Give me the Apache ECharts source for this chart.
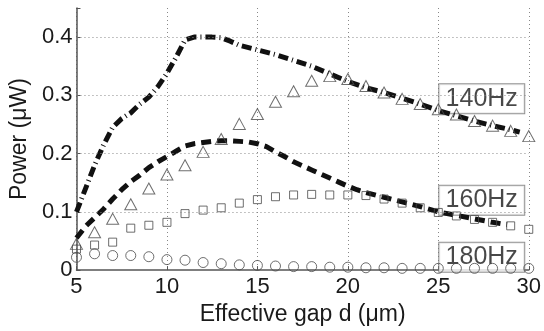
<!DOCTYPE html>
<html>
<head>
<meta charset="utf-8">
<script src="https://cdn.jsdelivr.net/npm/echarts@6/dist/echarts.min.js"></script>
<style>
html, body { margin: 0; padding: 0; background: #fff; }
#myChart { width: 544px; height: 331px; }
</style>
</head>
<body>
<div id="myChart"></div>
<script>
// measured points (integer gap values)
var gapList = [5, 6, 7, 8, 9, 10, 11, 12, 13, 14, 15, 16, 17, 18, 19, 20, 21, 22, 23, 24, 25, 26, 27, 28, 29, 30];
var exp140 = [0.045, 0.065, 0.088, 0.113, 0.140, 0.164, 0.180, 0.203, 0.225, 0.251, 0.268, 0.289, 0.307, 0.325, 0.333, 0.328, 0.316, 0.305, 0.294, 0.285, 0.276, 0.267, 0.256, 0.248, 0.239, 0.230];
var exp160 = [0.036, 0.043, 0.048, 0.072, 0.077, 0.082, 0.097, 0.103, 0.107, 0.115, 0.121, 0.126, 0.129, 0.130, 0.129, 0.129, 0.128, 0.122, 0.115, 0.107, 0.099, 0.093, 0.087, 0.082, 0.076, 0.070];
var exp180 = [0.022, 0.028, 0.025, 0.025, 0.023, 0.018, 0.017, 0.013, 0.011, 0.009, 0.008, 0.007, 0.006, 0.006, 0.005, 0.005, 0.004, 0.004, 0.003, 0.003, 0.003, 0.003, 0.003, 0.003, 0.003, 0.003];

// simulated curves
var simX140 = [5, 5.5, 6, 6.5, 7, 7.5, 8, 8.5, 9, 9.5, 10, 10.5, 11, 11.5, 12, 12.5, 13, 13.5, 14, 15, 16, 17, 18, 19, 20, 21, 22, 23, 24, 25, 26, 27, 28, 29, 29.5];
var simY140 = [0.100, 0.140, 0.180, 0.215, 0.245, 0.260, 0.270, 0.285, 0.297, 0.315, 0.338, 0.365, 0.395, 0.400, 0.400, 0.400, 0.399, 0.393, 0.386, 0.378, 0.370, 0.360, 0.350, 0.337, 0.324, 0.313, 0.305, 0.295, 0.285, 0.274, 0.265, 0.256, 0.248, 0.241, 0.237];
var simX160 = [5, 5.5, 6, 6.5, 7, 7.5, 8, 8.5, 9, 9.5, 10, 10.5, 11, 11.5, 12, 12.5, 13, 13.5, 14, 14.5, 15, 15.5, 16, 16.5, 17, 17.5, 18, 18.5, 19, 19.5, 20, 20.5, 21, 22, 23, 24, 25, 26, 27, 28, 28.8];
var simY160 = [0.055, 0.075, 0.090, 0.105, 0.122, 0.138, 0.152, 0.163, 0.176, 0.186, 0.195, 0.204, 0.213, 0.217, 0.219, 0.221, 0.222, 0.222, 0.221, 0.220, 0.217, 0.212, 0.203, 0.195, 0.186, 0.179, 0.172, 0.165, 0.158, 0.151, 0.144, 0.138, 0.133, 0.125, 0.117, 0.109, 0.100, 0.094, 0.088, 0.082, 0.078];

// frequency tags
var tagNames = ['140Hz', '160Hz', '180Hz'];
var tagX = [27.4, 27.4, 27.4];
var tagY = [0.294, 0.120, 0.022];

var gridY = [0.1, 0.2, 0.3, 0.4];

function pairs(xs, ys) {
	var out = [];
	for (var i = 0; i < xs.length; i++) {
		out.push([xs[i], ys[i]]);
	}
	return out;
}

var font = '"Liberation Sans", Arial, Helvetica, sans-serif';
var markerColor = '#4a4a4a';

var tagData = [];
for (var i = 0; i < tagNames.length; i++) {
	tagData.push({ value: [tagX[i], tagY[i]], name: tagNames[i] });
}

var gridLines = [];
for (var i = 0; i < gridY.length; i++) {
	gridLines.push({ yAxis: gridY[i] });
}

var myChart = echarts.init(document.getElementById('myChart'));
var option = {
	animation : false,
	backgroundColor : '#fff',
	grid : {
		left : 72,
		right : 12,
		top : 8,
		bottom : 53
	},
	xAxis : {
		type : 'value',
		min : 5,
		max : 30,
		interval : 5,
		name : 'Effective gap d (\u03bcm)',
		nameLocation : 'middle',
		nameGap : 24,
		nameTextStyle : { fontFamily : font, fontSize : 23, color : '#1a1a1a' },
		axisLine : { lineStyle : { color : '#555', width : 1.5 } },
		axisTick : { inside : true, length : 4, lineStyle : { color : '#555' } },
		axisLabel : { fontFamily : font, fontSize : 22, color : '#1a1a1a', margin : 6 },
		splitLine : { show : true, lineStyle : { color : '#888', type : [1, 3], width : 1 } }
	},
	yAxis : {
		type : 'value',
		min : 0,
		max : 0.45,
		interval : 0.1,
		name : 'Power (\u03bcW)',
		nameLocation : 'middle',
		nameGap : 44,
		nameTextStyle : { fontFamily : font, fontSize : 23, color : '#1a1a1a' },
		axisLine : { show : true, lineStyle : { color : '#555', width : 1.5 } },
		axisTick : { inside : true, length : 4, lineStyle : { color : '#555' } },
		axisLabel : {
			fontFamily : font, fontSize : 22, color : '#1a1a1a', margin : 4,
			formatter : function(v) {
				if (Math.abs(v * 10 - Math.round(v * 10)) > 1e-6) return '';
				return v === 0 ? '0' : v.toFixed(1);
			}
		},
		splitLine : { show : false }
	},
	series : [ {
		type : 'line',
		data : [],
		silent : true,
		z : 1,
		markLine : {
			silent : true,
			symbol : 'none',
			label : { show : false },
			lineStyle : { color : '#888', type : [1, 3], width : 1 },
			data : gridLines
		}
	}, {
		type : 'scatter',
		data : tagData,
		symbolSize : 0,
		z : 2,
		label : {
			show : true,
			position : 'inside',
			formatter : '{b}',
			fontFamily : font,
			fontSize : 25,
			color : '#1a1a1a',
			backgroundColor : '#fff',
			borderColor : '#777',
			borderWidth : 1,
			width : 77,
			height : 29,
			lineHeight : 31,
			align : 'center',
			padding : [0, 4, 0, 4]
		}
	}, {
		type : 'line',
		data : pairs(simX140, simY140),
		showSymbol : false,
		z : 3,
		lineStyle : { color : '#111', width : 5, type : [10, 4, 1, 4] }
	}, {
		type : 'line',
		data : pairs(simX160, simY160),
		showSymbol : false,
		z : 3,
		lineStyle : { color : '#111', width : 5, type : [10, 6] }
	}, {
		type : 'scatter',
		data : pairs(gapList, exp140),
		symbol : 'triangle',
		symbolSize : [12, 11],
		z : 4,
		itemStyle : { color : 'rgba(0,0,0,0)', borderColor : markerColor, borderWidth : 1 }
	}, {
		type : 'scatter',
		data : pairs(gapList, exp160),
		symbol : 'rect',
		symbolSize : 8,
		z : 4,
		itemStyle : { color : 'rgba(0,0,0,0)', borderColor : markerColor, borderWidth : 1 }
	}, {
		type : 'scatter',
		data : pairs(gapList, exp180),
		symbol : 'circle',
		symbolSize : 10,
		z : 4,
		itemStyle : { color : 'rgba(0,0,0,0)', borderColor : markerColor, borderWidth : 1 }
	} ]
};
myChart.setOption(option);
</script>
</body>
</html>
